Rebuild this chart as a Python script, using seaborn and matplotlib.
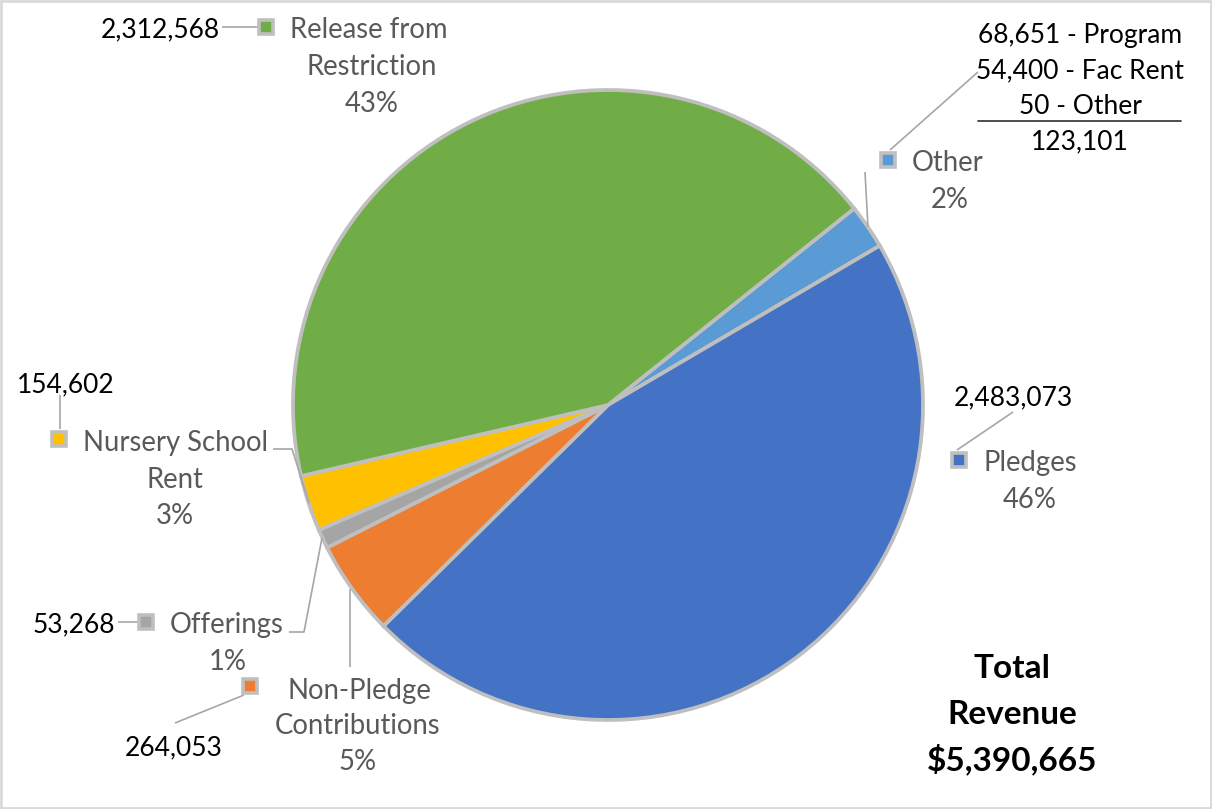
import matplotlib
matplotlib.use("Agg")
import matplotlib.pyplot as plt
from matplotlib.patches import Rectangle
import seaborn as sns

# ---------------- data ----------------
categories = ["Other", "Pledges", "Non-Pledge\nContributions", "Offerings",
              "Nursery School\nRent", "Release from\nRestriction"]
values = [123101, 2483073, 264053, 53268, 154602, 2312568]
colors = ["#5B9BD5", "#4472C4", "#ED7D31", "#A5A5A5", "#FFC000", "#70AD47"]
other_parts = ["68,651 - Program", "54,400 - Fac Rent", "50 - Other"]
total_title = ["Total", "Revenue"]

total = sum(values)
pcts = [f"{round(v / total * 100):.0f}%" for v in values]

# ---------------- style ----------------
sns.set_theme(style="white")
plt.rcParams["font.family"] = ["Lato", "DejaVu Sans"]

W, H = 1212, 809
fig = plt.figure(figsize=(W / 100, H / 100), dpi=100)
ax = fig.add_axes([0, 0, 1, 1])


def Y(y):
    return H - y


EDGE = "#BFBFBF"
GREY_TXT = "#595959"
FS = 19.8     # category / percent labels
FN = 19.0     # number labels

ax.pie(values, colors=colors, startangle=38.6, counterclock=False,
       center=(608, Y(405)), radius=315,
       wedgeprops=dict(edgecolor=EDGE, linewidth=2.7))
ax.set_xlim(0, W)
ax.set_ylim(0, H)
ax.set_aspect("equal", adjustable="box")
ax.axis("off")


def key(x, y, c):
    s = 14
    ax.add_patch(Rectangle((x - s / 2, Y(y) - s / 2), s, s, facecolor=c,
                           edgecolor=EDGE, linewidth=2.6, zorder=5))


def line(pts, lw=1.2):
    xs = [p[0] for p in pts]
    ys = [Y(p[1]) for p in pts]
    ax.plot(xs, ys, color="#A6A6A6", lw=lw, zorder=4, solid_capstyle="butt")


def txt(x, y, s, ha="center", color=GREY_TXT, size=FS, weight="normal"):
    ax.text(x, Y(y), s, ha=ha, va="center_baseline", color=color,
            fontsize=size, fontweight=weight, zorder=6)


def num(x, y, s, ha="center"):
    txt(x, y, s, ha=ha, color="black", size=FN)


def cat_lines(i):
    return categories[i].split("\n")


# Release from Restriction (index 5)
i = 5
line([(222, 27), (258, 27)])
num(220, 27, f"{values[i]:,}", ha="right")
key(266, 27, colors[i])
l = cat_lines(i)
txt(290, 27, l[0], ha="left")
txt(372, 64, l[1])
txt(372, 101, pcts[i])

# Other (index 0)
i = 0
line([(890, 150), (978, 72)])
line([(865, 172), (868, 227)])
key(888, 160, colors[i])
txt(912, 160, cat_lines(i)[0], ha="left")
txt(950, 197, pcts[i])
for k, s in enumerate(other_parts):
    num(1080, 33 + k * 35.5, s)
ax.plot([978, 1181], [Y(121), Y(121)], color="#404040", lw=1.3)
num(1080, 139, f"{values[i]:,}")

# Pledges (index 1)
i = 1
line([(1013, 412), (957, 450)])
num(1013, 395, f"{values[i]:,}")
key(959, 460, colors[i])
txt(983, 460, cat_lines(i)[0], ha="left")
txt(1030, 497, pcts[i])

# Nursery School Rent (index 4)
i = 4
line([(60, 395), (60, 429)])
line([(273, 449), (292, 449), (309, 503)])
num(17, 382, f"{values[i]:,}", ha="left")
key(59, 439, colors[i])
l = cat_lines(i)
txt(83, 440, l[0], ha="left")
txt(175, 477, l[1])
txt(175, 514, pcts[i])

# Offerings (index 3)
i = 3
line([(118, 622), (139, 622)])
line([(289, 632), (304, 632), (322, 538)])
num(115, 622, f"{values[i]:,}", ha="right")
key(146, 622, colors[i])
txt(170, 622, cat_lines(i)[0], ha="left")
txt(228, 659, pcts[i])

# Non-Pledge Contributions (index 2)
i = 2
line([(175, 723), (244, 695)])
line([(350, 667), (350, 589)])
num(174, 745, f"{values[i]:,}")
key(250, 686, colors[i])
l = cat_lines(i)
txt(288, 688, l[0], ha="left")
txt(358, 723, l[1])
txt(358, 760, pcts[i])

# Total revenue
txt(1012, 666, total_title[0], color="black", size=24, weight="bold")
txt(1012, 712, total_title[1], color="black", size=24, weight="bold")
txt(1012, 757, f"${total:,}", color="black", size=24, weight="bold")

# outer border
fig.patches.append(Rectangle((1, 1), W - 2, H - 2, transform=None, fill=False,
                             edgecolor="#D9D9D9", linewidth=2))

fig.savefig("out.png", dpi=100)
